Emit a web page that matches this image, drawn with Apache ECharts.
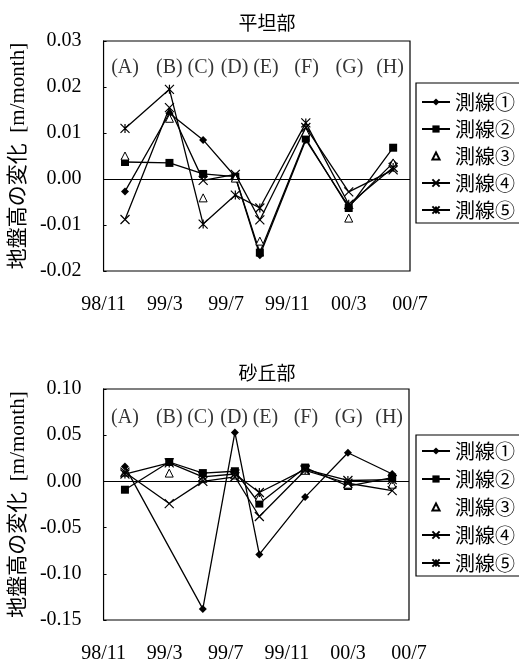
<!DOCTYPE html>
<html>
<head>
<meta charset="utf-8">
<script src="https://cdn.jsdelivr.net/npm/echarts@6/dist/echarts.min.js"></script>
<style>
html,body{margin:0;padding:0;background:#fff;}
#c{width:519px;height:666px;}
</style>
</head>
<body>
<div id="c"></div>
<script>
// x positions of survey dates, in months since 98/11
var xMonths = [1.4, 4.3, 6.5, 8.6, 10.2, 13.2, 16.0, 18.9];
var tickLabels = ['98/11', '99/3', '99/7', '99/11', '00/3', '00/7'];
var periodNames = ['(A)', '(B)', '(C)', '(D)', '(E)', '(F)', '(G)', '(H)'];
var periodPos = [1.4, 4.3, 6.35, 8.55, 10.6, 13.25, 16.05, 18.7];
var seriesNames = ['測線①', '測線②', '測線③', '測線④', '測線⑤'];

// 平坦部
var flat1 = [-0.0027, 0.0143, 0.0085, 0.0005, -0.0166, 0.0085, -0.0060, 0.0035];
var flat2 = [0.0037, 0.0035, 0.0011, 0.0005, -0.0160, 0.0088, -0.0063, 0.0068];
var flat3 = [0.0050, 0.0132, -0.0041, 0.0002, -0.0135, 0.0102, -0.0085, 0.0035];
var flat4 = [-0.0088, 0.0155, -0.0003, 0.0010, -0.0089, 0.0112, -0.0028, 0.0020];
var flat5 = [0.0110, 0.0195, -0.0098, -0.0035, -0.0063, 0.0122, -0.0055, 0.0025];

// 砂丘部
var dune1 = [0.016, null, -0.138, 0.053, -0.079, -0.017, 0.031, 0.008];
var dune2 = [-0.009, 0.021, 0.009, 0.011, -0.024, 0.015, -0.005, 0.004];
var dune3 = [0.010, 0.009, 0.003, 0.007, -0.017, 0.012, -0.003, -0.003];
var dune4 = [0.010, -0.024, 0.000, 0.005, -0.038, 0.012, -0.002, -0.010];
var dune5 = [0.008, 0.020, 0.005, 0.008, -0.012, 0.013, 0.001, 0.002];

var SERIF = "'Liberation Serif', 'Noto Sans CJK JP', serif";
var CJK = "'Noto Sans CJK JP', sans-serif";

function pts(vals) {
  return vals.map(function (v, i) { return [xMonths[i], v]; });
}

var styles = [
  { symbol: 'diamond', symbolSize: 8, line: true },
  { symbol: 'rect', symbolSize: 8, line: true },
  { symbol: 'triangle', symbolSize: 8, line: false, hollow: true },
  { symbol: 'path://M0,0L10,10M10,0L0,10', symbolSize: 9, line: true, stroke: true },
  { symbol: 'path://M0,0L10,10M10,0L0,10M5,0L5,10', symbolSize: 9, line: true, stroke: true }
];

function makeSeries(idx, datasets) {
  return datasets.map(function (vals, k) {
    var st = styles[k];
    var s = {
      name: seriesNames[k],
      type: 'line',
      xAxisIndex: idx,
      yAxisIndex: idx,
      data: pts(vals),
      connectNulls: true,
      symbol: st.symbol,
      symbolSize: st.symbolSize,
      showSymbol: true,
      animation: false,
      z: 3,
      lineStyle: st.line ? { color: '#000', width: 1.3 } : { width: 0, opacity: 0 },
      itemStyle: st.hollow ? { color: '#fff', borderColor: '#000', borderWidth: 1 }
               : st.stroke ? { color: 'rgba(0,0,0,0)', borderColor: '#000', borderWidth: 1.2 }
               : { color: '#000', borderColor: '#000', borderWidth: 0 },
      emphasis: { disabled: true }
    };
    if (k === 0) {
      s.markLine = {
        silent: true, symbol: 'none', animation: false,
        label: { show: false },
        lineStyle: { color: '#000', width: 1, type: 'solid' },
        data: [{ yAxis: 0 }]
      };
    }
    return s;
  });
}

function labelSeries(idx, yv) {
  return {
    type: 'scatter',
    xAxisIndex: idx, yAxisIndex: idx,
    symbolSize: 0,
    silent: true,
    animation: false,
    data: periodPos.map(function (p, i) { return { name: periodNames[i], value: [p, yv] }; }),
    label: {
      show: true, position: 'inside', formatter: '{b}',
      color: '#000', fontFamily: SERIF, fontSize: 20
    }
  };
}

function xAxisDef(idx) {
  return {
    type: 'value', gridIndex: idx, min: 0, max: 20, interval: 4,
    axisLine: { show: false, onZero: false },
    axisTick: { show: false },
    splitLine: { show: false },
    axisLabel: {
      margin: 24, color: '#000', fontFamily: SERIF, fontSize: 20,
      formatter: function (v) { return tickLabels[Math.round(v / 4)]; }
    }
  };
}

function yAxisDef(idx, min, max, interval) {
  return {
    type: 'value', gridIndex: idx, min: min, max: max, interval: interval,
    name: '地盤高の変化  [m/month]',
    nameLocation: 'middle', nameGap: 74, nameRotate: 90,
    nameTextStyle: { color: '#000', fontFamily: SERIF, fontSize: 21 },
    axisLine: { show: true, lineStyle: { color: '#000', width: 1 } },
    axisTick: { show: true, inside: true, length: 3, lineStyle: { color: '#000' } },
    splitLine: { show: false },
    axisLabel: {
      margin: 22, color: '#000', fontFamily: SERIF, fontSize: 20,
      formatter: function (v) { return v.toFixed(2); }
    }
  };
}

function legendDef(top, gap, padTop) {
  return {
    data: seriesNames,
    orient: 'vertical',
    left: 416, top: top,
    itemWidth: 28, itemHeight: 9, itemGap: gap,
    padding: [padTop, 40, 3, 5],
    borderColor: '#000', borderWidth: 1.2,
    selectedMode: false,
    textStyle: { color: '#000', fontFamily: CJK, fontSize: 20, lineHeight: 20 }
  };
}

var chart = echarts.init(document.getElementById('c'), null, { renderer: 'canvas' });
chart.setOption({
  backgroundColor: '#fff',
  animation: false,
  title: [
    { text: '平坦部', left: 262, textAlign: 'center', top: 8,
      textStyle: { color: '#000', fontFamily: CJK, fontWeight: 'normal', fontSize: 19 } },
    { text: '砂丘部', left: 262, textAlign: 'center', top: 358,
      textStyle: { color: '#000', fontFamily: CJK, fontWeight: 'normal', fontSize: 19 } }
  ],
  legend: [legendDef(83, 7, 9), legendDef(435, 8, 6)],
  grid: [
    { left: 100, top: 41, width: 310, height: 230, show: true, borderColor: '#000', borderWidth: 1.2, containLabel: false },
    { left: 96, top: 389, width: 313, height: 231, show: true, borderColor: '#000', borderWidth: 1.2, containLabel: false }
  ],
  xAxis: [xAxisDef(0), xAxisDef(1)],
  yAxis: [yAxisDef(0, -0.02, 0.03, 0.01), yAxisDef(1, -0.15, 0.10, 0.05)],
  series: []
    .concat(makeSeries(0, [flat1, flat2, flat3, flat4, flat5]))
    .concat(makeSeries(1, [dune1, dune2, dune3, dune4, dune5]))
    .concat([labelSeries(0, 0.0241), labelSeries(1, 0.0685)])
});
</script>
</body>
</html>
